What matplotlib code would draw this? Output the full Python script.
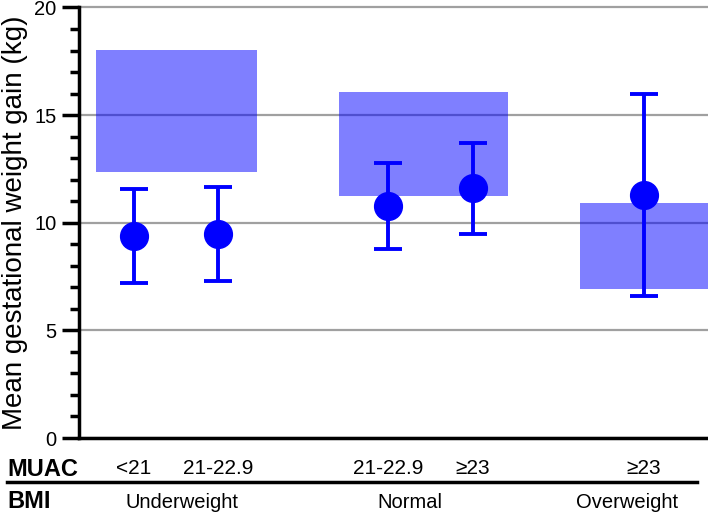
import matplotlib
matplotlib.use("Agg")
import matplotlib.pyplot as plt
from matplotlib.ticker import MultipleLocator

plt.rcParams['font.family'] = ['Liberation Sans', 'DejaVu Sans']

# Data
muac_labels = ["<21", "21-22.9", "21-22.9", "\u226523", "\u226523"]
bmi_labels = ["Underweight", "Normal", "Overweight"]
means = [9.38, 9.47, 10.78, 11.6, 11.29]
upper = [11.58, 11.67, 12.79, 13.69, 15.96]
lower = [7.2, 7.31, 8.78, 9.49, 6.61]
range_low = [12.34, 11.25, 6.91]
range_high = [18.04, 16.08, 10.9]

# Layout (x positions in axis units)
point_x = [0.555, 1.395, 3.095, 3.945, 5.655]
box_left = [0.175, 2.605, 5.015]
box_right = [1.785, 4.295, 6.40]
bmi_x = [1.035, 3.315, 5.485]

W, H = 708, 516
fig = plt.figure(figsize=(W / 100, H / 100), dpi=100)
ax = fig.add_axes([78.5 / W, 78 / H, (W - 78.5) / W, 430.5 / H])
ax.set_xlim(0, 6.295)
ax.set_ylim(0, 20)

for lo, hi, l, r in zip(range_low, range_high, box_left, box_right):
    ax.bar((l + r) / 2, hi - lo, bottom=lo, width=r - l, color='#0000ff', alpha=0.5,
           linewidth=0, zorder=2)

ax.yaxis.grid(True, color='#a0a0a0', linewidth=1.6, zorder=1)
ax.set_axisbelow(True)

yerr = [[m - l for m, l in zip(means, lower)], [u - m for m, u in zip(means, upper)]]
ax.errorbar(point_x, means, yerr=yerr, fmt='o', color='#0000ff', markersize=20,
            elinewidth=2.8, capsize=10, capthick=2.8, zorder=3, clip_on=False)

ax.spines['top'].set_visible(False)
ax.spines['right'].set_visible(False)
ax.spines['left'].set_linewidth(2.5)
ax.spines['bottom'].set_linewidth(2.5)
ax.set_xticks([])
ax.yaxis.set_major_locator(MultipleLocator(5))
ax.yaxis.set_minor_locator(MultipleLocator(1))
ax.tick_params(axis='y', which='major', length=12, width=2.5, labelsize=14.5, pad=4)
ax.tick_params(axis='y', which='minor', length=6.5, width=2.5)
ax.set_ylabel("Mean gestational weight gain (kg)", fontsize=20, labelpad=4)
for gl in ax.get_ygridlines():
    gl.set_clip_on(False)

trans = ax.get_xaxis_transform()
for x, t in zip(point_x, muac_labels):
    ax.text(x, (438 - 469) / 430.5, t, transform=trans, ha='center', va='center', fontsize=15)
for x, t in zip(bmi_x, bmi_labels):
    ax.text(x, (438 - 502) / 430.5, t, transform=trans, ha='center', va='center', fontsize=14.5)

fig.text(7 / W, 1 - 469 / H, "MUAC", fontsize=17, fontweight='bold', ha='left', va='center')
fig.text(7 / W, 1 - 502 / H, "BMI", fontsize=17, fontweight='bold', ha='left', va='center')
fig.add_artist(plt.Line2D([7 / W, 697 / W], [1 - 482 / H, 1 - 482 / H], color='black',
                          linewidth=2.5))

fig.savefig("out.png", dpi=100)
